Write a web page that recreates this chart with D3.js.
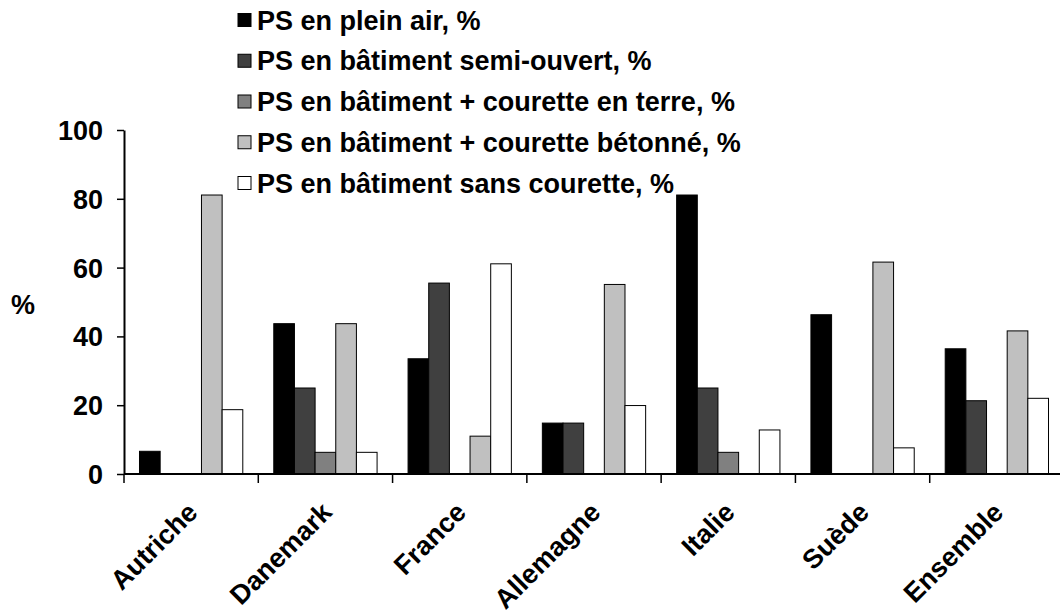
<!DOCTYPE html>
<html>
<head>
<meta charset="utf-8">
<script src="https://cdn.jsdelivr.net/npm/d3@7"></script>
<style>
  body { margin: 0; background: #fff; }
  text { font-family: "Liberation Sans", Arial, sans-serif; font-weight: bold; fill: #000; }
</style>
</head>
<body>
<div id="chart"></div>
<script>
// categories and series (values in %)
const countries = ['Autriche', 'Danemark', 'France', 'Allemagne', 'Italie', 'Suède', 'Ensemble'];
const seriesNames = [
  'PS en plein air, %',
  'PS en bâtiment semi-ouvert, %',
  'PS en bâtiment + courette en terre, %',
  'PS en bâtiment + courette bétonné, %',
  'PS en bâtiment sans courette, %'
];
const pleinAir     = [6.6, 43.7, 33.5, 14.8, 81.1, 46.3, 36.4];
const semiOuvert   = [0, 25.0, 55.5, 14.8, 25.0, 0, 21.3];
const couretteTerre = [0, 6.3, 0, 0, 6.3, 0, 0];
const couretteBeton = [81.1, 43.7, 11.0, 55.1, 0, 61.6, 41.6];
const sansCourette = [18.7, 6.3, 61.1, 19.9, 12.8, 7.6, 22.0];
const yTicks = [0, 20, 40, 60, 80, 100];

const allSeries = [pleinAir, semiOuvert, couretteTerre, couretteBeton, sansCourette];
const colors = ['#000000', '#404040', '#808080', '#c0c0c0', '#ffffff'];

//chart dimensions
const width = 1060, height = 614;
const mLeft = 124, mTop = 130, mBottom = 474, mRight = 1064;

const svg = d3.select('#chart').append('svg')
  .attr('width', width).attr('height', height);

const x = d3.scaleBand().domain(countries).range([mLeft, mRight]).paddingInner(0).paddingOuter(0);
const barW = x.bandwidth() / 6.5;   // 5 bars + 150% gap
const y = d3.scaleLinear().domain([0, 100]).range([mBottom, mTop]);

// bars
const groups = svg.selectAll('g.country')
  .data(countries)
  .enter().append('g')
  .attr('class', 'country')
  .attr('transform', d => 'translate(' + (x(d) + barW * 0.75) + ',0)');

groups.selectAll('rect')
  .data((c, ci) => allSeries.map((s, si) => ({ si: si, v: s[ci] })))
  .enter().append('rect')
  .attr('x', d => d.si * barW)
  .attr('y', d => y(d.v))
  .attr('width', barW)
  .attr('height', d => y(0) - y(d.v))
  .attr('fill', d => colors[d.si])
  .attr('stroke', '#000')
  .attr('stroke-width', 1);

// y axis
const yAxis = svg.append('g')
  .attr('transform', 'translate(' + mLeft + ',0)')
  .call(d3.axisLeft(y).tickValues(yTicks).tickSize(7).tickPadding(14).tickSizeOuter(0));
yAxis.select('.domain').attr('stroke', '#000').attr('stroke-width', 2);
yAxis.selectAll('.tick line').attr('stroke', '#000').attr('stroke-width', 1.5);
yAxis.selectAll('.tick text').style('font-size', '27px').attr('dy', '0.35em');

// x axis line and ticks at band boundaries
svg.append('line')
  .attr('x1', mLeft).attr('x2', mRight)
  .attr('y1', mBottom).attr('y2', mBottom)
  .attr('stroke', '#000').attr('stroke-width', 2);

svg.selectAll('line.xtick')
  .data(countries)
  .enter().append('line')
  .attr('class', 'xtick')
  .attr('x1', d => x(d)).attr('x2', d => x(d))
  .attr('y1', mBottom).attr('y2', mBottom + 9)
  .attr('stroke', '#000').attr('stroke-width', 1.5);

svg.selectAll('text.xlabel')
  .data(countries)
  .enter().append('text')
  .attr('class', 'xlabel')
  .attr('text-anchor', 'end')
  .style('font-size', '27px')
  .attr('transform', d => 'translate(' + (x(d) + x.bandwidth() / 2 + 8) + ',' + (mBottom + 40) + ') rotate(-45)')
  .text(d => d);

// y title
svg.append('text')
  .attr('x', 23).attr('y', 305)
  .attr('text-anchor', 'middle')
  .attr('dy', '0.35em')
  .style('font-size', '27px')
  .text('%');

// legend
const legendY = d3.scalePoint().domain(seriesNames).range([20, 183]);
const legend = svg.selectAll('g.legend')
  .data(seriesNames)
  .enter().append('g')
  .attr('class', 'legend')
  .attr('transform', d => 'translate(238,' + legendY(d) + ')');

legend.append('rect')
  .attr('x', 0).attr('y', -6.5)
  .attr('width', 13).attr('height', 13)
  .attr('fill', (d, i) => colors[i])
  .attr('stroke', '#000').attr('stroke-width', 1);

legend.append('text')
  .attr('x', 19).attr('dy', '0.36em')
  .style('font-size', '27px')
  .text(d => d);
</script>
</body>
</html>
